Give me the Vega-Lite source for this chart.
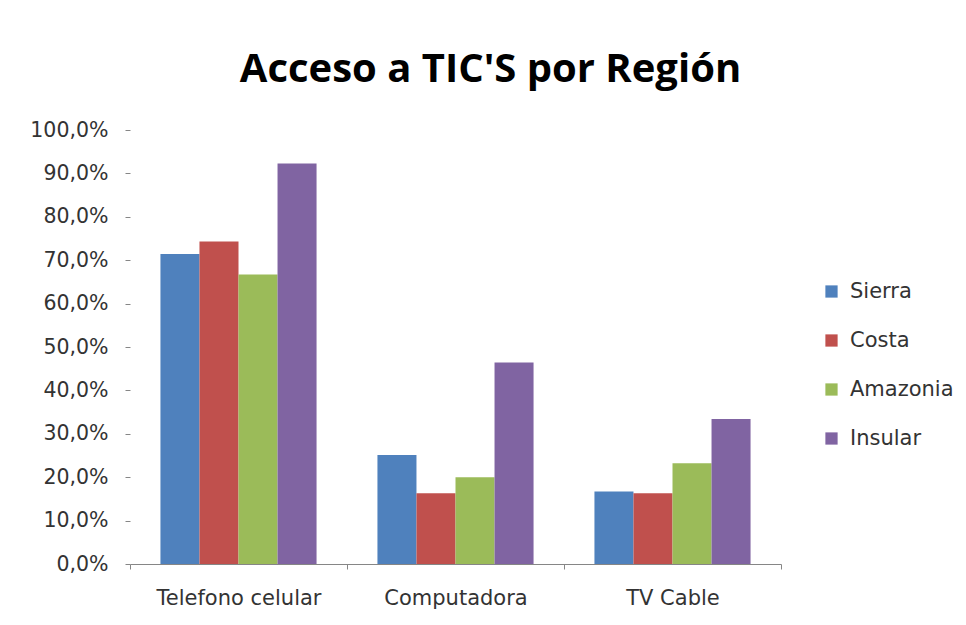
{
  "$schema": "https://vega.github.io/schema/vega-lite/v6.json",
  "autosize": {"type": "none"},
  "width": 651,
  "height": 434,
  "padding": {"left": 130, "top": 130, "right": 185, "bottom": 61},
  "background": "white",
  "title": {
    "text": "Acceso a TIC'S por Región",
    "font": "Open Sans",
    "fontSize": 40,
    "fontWeight": "bold",
    "color": "#000000",
    "anchor": "middle",
    "dx": 35,
    "offset": 30
  },
  "data": {
    "values": [
      {"categoria": "Telefono celular", "region": "Sierra", "valor": 0.714},
      {"categoria": "Telefono celular", "region": "Costa", "valor": 0.743},
      {"categoria": "Telefono celular", "region": "Amazonia", "valor": 0.667},
      {"categoria": "Telefono celular", "region": "Insular", "valor": 0.923},
      {"categoria": "Computadora", "region": "Sierra", "valor": 0.251},
      {"categoria": "Computadora", "region": "Costa", "valor": 0.163},
      {"categoria": "Computadora", "region": "Amazonia", "valor": 0.200},
      {"categoria": "Computadora", "region": "Insular", "valor": 0.464},
      {"categoria": "TV Cable", "region": "Sierra", "valor": 0.167},
      {"categoria": "TV Cable", "region": "Costa", "valor": 0.163},
      {"categoria": "TV Cable", "region": "Amazonia", "valor": 0.232},
      {"categoria": "TV Cable", "region": "Insular", "valor": 0.334}
    ]
  },
  "mark": {"type": "bar"},
  "encoding": {
    "x": {
      "field": "categoria",
      "type": "nominal",
      "sort": ["Telefono celular", "Computadora", "TV Cable"],
      "scale": {"paddingInner": 0, "paddingOuter": 0},
      "axis": {
        "title": null,
        "labelAngle": 0,
        "labelFont": "DejaVu Sans",
        "labelFontSize": 21,
        "labelColor": "#333333",
        "labelPadding": 18,
        "tickBand": "extent",
        "tickSize": 5,
        "tickColor": "#868686",
        "domainColor": "#868686",
        "domainWidth": 1
      }
    },
    "xOffset": {
      "field": "region",
      "type": "nominal",
      "sort": ["Sierra", "Costa", "Amazonia", "Insular"],
      "scale": {"paddingInner": 0, "paddingOuter": 0.78}
    },
    "y": {
      "field": "valor",
      "type": "quantitative",
      "scale": {"domain": [0, 1], "nice": false},
      "axis": {
        "title": null,
        "values": [0, 0.1, 0.2, 0.3, 0.4, 0.5, 0.6, 0.7, 0.8, 0.9, 1.0],
        "labelExpr": "replace(format(datum.value, '.1%'), '.', ',')",
        "labelFont": "DejaVu Sans",
        "labelFontSize": 20.5,
        "labelColor": "#333333",
        "labelPadding": 17,
        "domain": false,
        "grid": false,
        "tickSize": 5,
        "tickColor": "#868686"
      }
    },
    "color": {
      "field": "region",
      "type": "nominal",
      "sort": ["Sierra", "Costa", "Amazonia", "Insular"],
      "scale": {
        "domain": ["Sierra", "Costa", "Amazonia", "Insular"],
        "range": ["#4F81BD", "#C0504D", "#9BBB59", "#8064A2"]
      },
      "legend": {
        "title": null,
        "orient": "none",
        "legendX": 691,
        "legendY": 151,
        "symbolType": "square",
        "symbolSize": 150,
        "symbolStrokeWidth": 0,
        "labelFont": "DejaVu Sans",
        "labelFontSize": 21,
        "labelColor": "#333333",
        "labelOffset": 8,
        "rowPadding": 27
      }
    }
  },
  "config": {
    "view": {"stroke": null}
  }
}
